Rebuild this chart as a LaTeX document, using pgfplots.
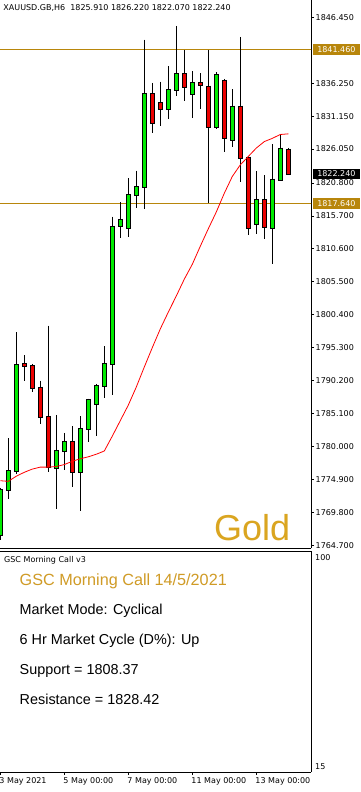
\documentclass[border=0pt]{standalone}
\usepackage{fontspec}
\setmainfont{DejaVu Sans}
\newfontfamily\arial{Liberation Sans}
\usepackage{pgfplots}
\usepackage{pgfplotstable}
\pgfplotsset{compat=1.18}
\definecolor{upc}{RGB}{0,235,0}
\definecolor{dnc}{RGB}{235,0,0}
\definecolor{lvl}{RGB}{184,134,11}
\definecolor{goldtxt}{RGB}{218,165,32}
\definecolor{ttl}{RGB}{208,155,38}

\pgfplotstableread{
i o h l c
0 1766.3 1773.6 1765.5 1773.2
1 1773.2 1781.3 1771.8 1776.2
2 1776.2 1797.7 1775.7 1792.6
7 1776.7 1784.9 1770.3 1779.3
8 1779.3 1782.1 1776.4 1780.7
10 1776.1 1784.7 1770.0 1782.7
11 1782.7 1787.4 1780.7 1787.2
12 1786.6 1789.7 1781.6 1789.4
13 1789.4 1795.5 1787.5 1792.8
14 1792.8 1815.6 1788.0 1814.0
15 1814.1 1817.8 1812.3 1815.1
16 1813.9 1821.5 1812.4 1818.9
17 1818.9 1822.7 1816.9 1820.1
18 1820.1 1843.0 1816.7 1834.6
21 1832.2 1838.9 1830.7 1835.2
22 1835.2 1845.1 1834.3 1837.6
24 1834.5 1838.1 1830.9 1836.2
27 1829.4 1837.9 1829.2 1837.5
29 1827.5 1835.3 1826.4 1832.6
32 1814.5 1822.6 1812.9 1818.1
34 1813.9 1826.8 1808.3 1821.3
35 1821.3 1828.4 1821.2 1826.1
}\upTbl

\pgfplotstableread{
i o h l c
3 1792.8 1794.1 1790.2 1792.4
4 1792.4 1792.8 1788.5 1789.1
5 1789.1 1790.2 1783.5 1784.5
6 1784.6 1798.7 1776.0 1776.8
9 1780.7 1783.1 1773.8 1776.1
19 1834.5 1836.3 1828.5 1830.1
20 1833.1 1836.5 1829.6 1832.2
23 1837.6 1841.4 1833.5 1835.7
25 1836.2 1837.8 1832.3 1835.9
26 1835.7 1841.4 1817.7 1829.4
28 1836.6 1836.9 1825.6 1827.7
30 1832.6 1843.4 1820.9 1824.7
31 1824.7 1824.8 1812.8 1813.9
33 1818.1 1822.0 1812.1 1814.0
36 1825.91 1826.22 1822.07 1822.24
}\dnTbl

\pgfplotstableread{
i v
0 1774.7
1 1774.6
2 1775.4
3 1776.0
4 1776.5
5 1776.8
6 1776.8
7 1776.9
8 1777.2
9 1777.7
10 1778.1
11 1778.4
12 1778.8
13 1779.3
14 1781.6
15 1784.0
16 1786.4
17 1789.2
18 1792.3
19 1795.3
20 1798.2
21 1800.8
22 1803.3
23 1805.9
24 1808.2
25 1811.0
26 1813.7
27 1816.3
28 1819.2
29 1821.8
30 1823.6
31 1824.9
32 1826.2
33 1827.2
34 1827.7
35 1828.3
36 1828.4
}\maTbl

\pgfplotsset{
  wick/.style={draw=none, forget plot, error bars/.cd, y dir=minus, y explicit,
    error mark=none, error bar style={draw=black, line width=0.9bp}},
  bodyedge/.style={draw=none, forget plot, error bars/.cd, y dir=minus, y explicit,
    error mark=none, error bar style={draw=black, line width=5bp}},
  bodyfill/.style={draw=none, forget plot, error bars/.cd, y dir=minus, y explicit,
    error mark=none, error bar style={draw=#1, line width=3bp}},
}

\begin{document}
\begin{tikzpicture}
\useasboundingbox (0,0) rectangle (361bp,792bp);
\fill[white] (0,0) rectangle (361bp,792bp);

% ---------------- main price panel ----------------
\begin{axis}[
  at={(0bp,243.7bp)}, anchor=south west,
  width=311bp, height=548.3bp, scale only axis,
  xmin=-0.0375, xmax=38.84, ymin=1764.236, ymax=1849.125,
  axis x line*=bottom, axis y line*=right,
  clip mode=individual,
  xtick=\empty,
  ytick={1764.7,1769.8,1774.9,1780.0,1785.1,1790.2,1795.3,1800.4,1805.5,1810.6,1815.7,1820.8,1826.05,1831.15,1836.25,1846.45},
  yticklabels={1764.700,1769.800,1774.900,1780.000,1785.100,1790.200,1795.300,1800.400,1805.500,1810.600,1815.700,1820.800,1826.050,1831.150,1836.250,1846.450},
  tick align=outside, major tick length=3bp,
  ticklabel style={font=\fontsize{8bp}{9bp}\selectfont},
  yticklabel style={inner sep=0pt, xshift=1.5bp},
  axis line style={line width=0.8bp},
  tick style={black, line width=0.7bp},
]
\addplot [lvl, line width=0.9bp, forget plot] coordinates {(-1,1841.46) (40,1841.46)};
\addplot [lvl, line width=0.9bp, forget plot] coordinates {(-1,1817.64) (40,1817.64)};

\addplot [wick] table [x=i, y=h, y error minus expr=\thisrow{h}-\thisrow{l}] {\upTbl};
\addplot [wick] table [x=i, y=h, y error minus expr=\thisrow{h}-\thisrow{l}] {\dnTbl};

\addplot [bodyedge] table [x=i, y expr={max(\thisrow{o},\thisrow{c})+0.155}, y error minus expr={abs(\thisrow{c}-\thisrow{o})+0.31}] {\upTbl};
\addplot [bodyfill=upc] table [x=i, y expr={max(\thisrow{o},\thisrow{c})}, y error minus expr={abs(\thisrow{c}-\thisrow{o})}] {\upTbl};
\addplot [bodyedge] table [x=i, y expr={max(\thisrow{o},\thisrow{c})+0.155}, y error minus expr={abs(\thisrow{c}-\thisrow{o})+0.31}] {\dnTbl};
\addplot [bodyfill=dnc] table [x=i, y expr={max(\thisrow{o},\thisrow{c})}, y error minus expr={abs(\thisrow{c}-\thisrow{o})}] {\dnTbl};

\addplot [red, line width=0.8bp] table [x=i, y=v] {\maTbl};

\node[anchor=west, fill=lvl, text=white, inner sep=0pt, minimum width=47bp, minimum height=10.5bp,
  font=\fontsize{8bp}{9bp}\selectfont, xshift=1.7bp] at (axis cs:38.84,1841.46) {1841.460};
\node[anchor=west, fill=black, text=white, inner sep=0pt, minimum width=47bp, minimum height=10bp,
  font=\fontsize{8bp}{9bp}\selectfont, xshift=1.7bp] at (axis cs:38.84,1822.24) {1822.240};
\node[anchor=west, fill=lvl, text=white, inner sep=0pt, minimum width=47bp, minimum height=10.5bp,
  font=\fontsize{8bp}{9bp}\selectfont, xshift=1.7bp] at (axis cs:38.84,1817.64) {1817.640};
\end{axis}

% ---------------- lower indicator panel ----------------
\begin{axis}[
  at={(0bp,20bp)}, anchor=south west,
  width=311bp, height=221bp, scale only axis,
  xmin=-0.0375, xmax=38.84, ymin=0, ymax=1,
  axis x line*=box, axis y line*=right,
  clip mode=individual,
  xtick={0,8,16,24,32},
  xticklabels={3 May 2021,5 May 00:00,7 May 00:00,11 May 00:00,13 May 00:00},
  xtick pos=left,
  ytick=\empty,
  tick align=outside, major tick length=3bp,
  ticklabel style={font=\fontsize{8bp}{9bp}\selectfont},
  xticklabel style={anchor=north west, inner sep=0pt, xshift=-1bp, yshift=-2bp},
  axis line style={line width=0.8bp},
  tick style={black, line width=0.7bp},
]
\addplot [draw=none, forget plot] coordinates {(0,0.5)};
\node[anchor=base west, inner sep=0pt, font=\fontsize{8bp}{9bp}\selectfont, xshift=4bp]
  at (rel axis cs:1,0.956) {100};
\node[anchor=base west, inner sep=0pt, font=\fontsize{8bp}{9bp}\selectfont, xshift=4bp]
  at (rel axis cs:1,0.0122) {15};
\end{axis}

% ---------------- texts ----------------
\node[anchor=base west, inner sep=0pt, font=\fontsize{8bp}{9bp}\selectfont]
  at (3.3bp,781.3bp) {XAUUSD.GB,H6\ \ 1825.910 1826.220 1822.070 1822.240};
\node[anchor=base west, inner sep=0pt, text=goldtxt, font=\arial\fontsize{36bp}{40bp}\selectfont]
  at (214bp,251.3bp) {Gold};
\node[anchor=base west, inner sep=0pt, font=\fontsize{8bp}{9bp}\selectfont]
  at (4bp,229.3bp) {GSC Morning Call v3};
\node[anchor=base west, inner sep=0pt, text=ttl, font=\arial\fontsize{16.2bp}{18bp}\selectfont]
  at (19.5bp,206.3bp) {GSC Morning Call 14/5/2021};
\node[anchor=base west, inner sep=0pt, font=\arial\fontsize{14.4bp}{16bp}\selectfont]
  at (19.5bp,177bp) {Market Mode: Cyclical};
\node[anchor=base west, inner sep=0pt, font=\arial\fontsize{14.4bp}{16bp}\selectfont]
  at (19.5bp,147.7bp) {6 Hr Market Cycle (D\%): Up};
\node[anchor=base west, inner sep=0pt, font=\arial\fontsize{14.4bp}{16bp}\selectfont]
  at (19.5bp,117bp) {Support = 1808.37};
\node[anchor=base west, inner sep=0pt, font=\arial\fontsize{14.4bp}{16bp}\selectfont]
  at (19.5bp,87bp) {Resistance = 1828.42};
\end{tikzpicture}
\end{document}
